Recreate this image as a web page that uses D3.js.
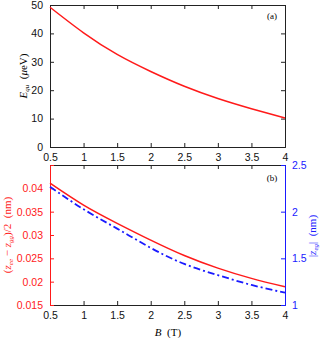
<!DOCTYPE html>
<html>
<head>
<meta charset="utf-8">
<script src="https://cdn.jsdelivr.net/npm/d3@7"></script>
<style>
  body { margin: 0; background: #fff; }
  svg text { font-family: "Liberation Sans", Arial, sans-serif; }
  .serif { font-family: "Liberation Serif", "Times New Roman", serif; font-weight: normal; }
</style>
</head>
<body>
<div id="chart"></div>
<script>
// magnetic field B (T)
const bField = [0.5, 1, 1.5, 2, 2.5, 3, 3.5, 4];
// panel (a): E_qu in micro eV
const eQu = [49.2, 40.2, 32.6, 26.6, 21.4, 17.1, 13.5, 10.2];
// panel (b): (z_ee - z_gg)/2 in nm (left axis)
const zDiff = [0.0411, 0.0364, 0.0325, 0.0289, 0.0256, 0.0229, 0.0207, 0.0189];
// panel (b): |z_eg| in nm (right axis)
const zEg = [2.268, 2.026, 1.818, 1.612, 1.44, 1.32, 1.215, 1.132];

const xTicks = [0.5, 1, 1.5, 2, 2.5, 3, 3.5, 4];
const eTicks = [0, 10, 20, 30, 40, 50];
const zDiffTicks = [0.015, 0.02, 0.025, 0.03, 0.035, 0.04];
const zEgTicks = [1, 1.5, 2, 2.5];

const W = 324, H = 338;
const left = 50, right = 285;
const RED = '#ff1a1a', BLUE = '#1a1aff', AX = '#222';

const svg = d3.select('#chart').append('svg')
  .attr('width', W).attr('height', H);

const x = d3.scaleLinear().domain([0.5, 4]).range([left, right]);
const line = d3.line().curve(d3.curveNatural);

// ---- panel (a)
const yA = d3.scaleLinear().domain([0, 50]).range([147, 5]);

const gA = svg.append('g');
gA.append('g').attr('transform', 'translate(0,147)')
  .call(d3.axisBottom(x).tickValues(xTicks).tickSize(-4).tickPadding(7).tickFormat(d3.format('')));
gA.append('g').attr('transform', 'translate(0,5)')
  .call(d3.axisTop(x).tickValues(xTicks).tickSize(-4).tickFormat(''));
gA.append('g').attr('transform', `translate(${left},0)`)
  .call(d3.axisLeft(yA).tickValues(eTicks).tickSize(-4).tickPadding(7));
gA.append('g').attr('transform', `translate(${right},0)`)
  .call(d3.axisRight(yA).tickValues(eTicks).tickSize(-4).tickFormat(''));
gA.selectAll('.domain, .tick line').attr('stroke', AX);
gA.selectAll('.tick text').attr('fill', '#111').attr('font-size', 10.5);

gA.append('path')
  .attr('d', line(bField.map((b, i) => [x(b), yA(eQu[i])])))
  .attr('fill', 'none').attr('stroke', RED).attr('stroke-width', 1.5);

gA.append('text').attr('class', 'serif').attr('x', 272).attr('y', 19)
  .attr('text-anchor', 'middle').attr('font-size', 9).text('(a)');

const tA = gA.append('text').attr('class', 'serif')
  .attr('transform', 'translate(27,76) rotate(-90)')
  .attr('text-anchor', 'middle').attr('font-size', 11);
tA.append('tspan').attr('font-style', 'italic').text('E');
tA.append('tspan').attr('font-style', 'italic').attr('font-size', 7).attr('dy', 2).text('qu');
tA.append('tspan').attr('dy', -2).text('\u00a0\u00a0(');
tA.append('tspan').attr('font-style', 'italic').text('\u03bc');
tA.append('tspan').text('eV)');

// ---- panel (b)
const top2 = 165, bot2 = 305;
const yL = d3.scaleLinear().domain([0.015, 0.045]).range([bot2, top2]);
const yR = d3.scaleLinear().domain([1, 2.5]).range([bot2, top2]);

const gB = svg.append('g');
const bx = gB.append('g').attr('transform', `translate(0,${bot2})`)
  .call(d3.axisBottom(x).tickValues(xTicks).tickSize(-4).tickPadding(7).tickFormat(d3.format('')));
const tx = gB.append('g').attr('transform', `translate(0,${top2})`)
  .call(d3.axisTop(x).tickValues(xTicks).tickSize(-4).tickFormat(''));
[bx, tx].forEach(g => {
  g.selectAll('.domain, .tick line').attr('stroke', AX);
  g.selectAll('.tick text').attr('fill', '#111').attr('font-size', 10.5);
});

const ly = gB.append('g').attr('transform', `translate(${left},0)`)
  .call(d3.axisLeft(yL).tickValues(zDiffTicks).tickSize(-4).tickPadding(7).tickFormat(d3.format('')));
ly.selectAll('.domain, .tick line').attr('stroke', RED);
ly.selectAll('.tick text').attr('fill', RED).attr('font-size', 10.5);

const ry = gB.append('g').attr('transform', `translate(${right},0)`)
  .call(d3.axisRight(yR).tickValues(zEgTicks).tickSize(-4).tickPadding(7).tickFormat(d3.format('')));
ry.selectAll('.domain, .tick line').attr('stroke', BLUE);
ry.selectAll('.tick text').attr('fill', BLUE).attr('font-size', 10.5);

gB.append('path')
  .attr('d', line(bField.map((b, i) => [x(b), yR(zEg[i])])))
  .attr('fill', 'none').attr('stroke', BLUE).attr('stroke-width', 1.8)
  .attr('stroke-dasharray', '7,3,2,3');

gB.append('path')
  .attr('d', line(bField.map((b, i) => [x(b), yL(zDiff[i])])))
  .attr('fill', 'none').attr('stroke', RED).attr('stroke-width', 1.5);

gB.append('text').attr('class', 'serif').attr('x', 272).attr('y', 181)
  .attr('text-anchor', 'middle').attr('font-size', 9).text('(b)');

// left label
const tL = gB.append('text').attr('class', 'serif')
  .attr('transform', 'translate(11,235) rotate(-90)')
  .attr('text-anchor', 'middle').attr('font-size', 11).attr('fill', RED);
tL.append('tspan').text('(');
tL.append('tspan').attr('font-style', 'italic').text('z');
tL.append('tspan').attr('font-style', 'italic').attr('font-size', 7).attr('dy', 2).text('ee');
tL.append('tspan').attr('dy', -2).text(' \u2212 ');
tL.append('tspan').attr('font-style', 'italic').text('z');
tL.append('tspan').attr('font-style', 'italic').attr('font-size', 7).attr('dy', 2).text('gg');
tL.append('tspan').attr('dy', -2).text(')/2\u00a0\u00a0(nm)');

// right label
const tR = gB.append('text').attr('class', 'serif')
  .attr('transform', 'translate(316,236) rotate(-90)')
  .attr('text-anchor', 'middle').attr('font-size', 11).attr('fill', BLUE);
tR.append('tspan').text('|');
tR.append('tspan').attr('font-style', 'italic').text('z');
tR.append('tspan').attr('font-style', 'italic').attr('font-size', 7).attr('dy', 2).text('eg');
tR.append('tspan').attr('dy', -2).text('|\u00a0\u00a0(nm)');

// x label
const tX = gB.append('text').attr('class', 'serif')
  .attr('x', 168).attr('y', 336).attr('text-anchor', 'middle').attr('font-size', 11);
tX.append('tspan').attr('font-style', 'italic').text('B');
tX.append('tspan').text('\u00a0\u00a0(T)');
</script>
</body>
</html>
